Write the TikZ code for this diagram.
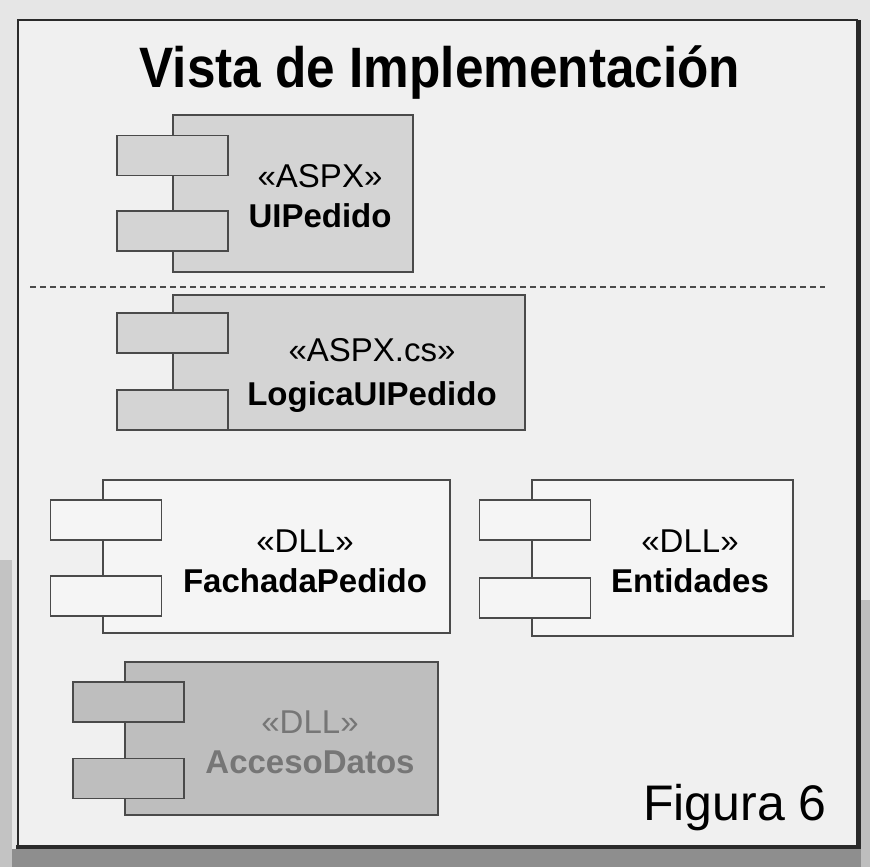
\documentclass[tikz,border=0pt]{standalone}
\usepackage{fontspec}
\setmainfont{Liberation Sans}
\definecolor{bgout}{HTML}{E6E6E6}
\definecolor{bgin}{HTML}{F0F0F0}
\definecolor{framec}{HTML}{2A2A2A}
\definecolor{linec}{HTML}{4A4A4A}
\definecolor{fillA}{HTML}{D4D4D4}
\definecolor{fillB}{HTML}{F5F5F5}
\definecolor{fillC}{HTML}{BEBEBE}
\definecolor{shadowc}{HTML}{8E8E8E}
\definecolor{textgray}{HTML}{767676}
\tikzset{
  compbox/.style={draw=linec, line width=1.3pt, inner sep=0pt, rectangle},
  portbox/.style={draw=linec, line width=1.3pt, inner sep=0pt, rectangle, minimum width=111pt, minimum height=40pt},
  complabel/.style={align=center, inner sep=0pt, font=\fontsize{33}{40}\selectfont},
}
\begin{document}
\begin{tikzpicture}[x=1pt,y=-1pt]
\useasboundingbox (0,0) rectangle (870,867);
% backgrounds
\fill[bgout] (0,0) rectangle (870,867);
\fill[shadowc] (0,849) rectangle (870,867);
\fill[shadowc!45!bgout] (861,600) rectangle (870,867);
\fill[shadowc!40!bgout] (0,560) rectangle (12,867);
\fill[bgin] (18,20) rectangle (857,846);
\draw[framec, line width=2.5pt] (18,20) rectangle (857,846);
\draw[framec, line width=4pt] (16,847) -- (859,847) -- (859,20);

% title
\node[inner sep=0pt, anchor=base, font=\fontsize{57}{60}\selectfont\bfseries] (title) at (440,88) {\scalebox{0.9}[1]{Vista de Implementación}};

% UIPedido
\node[compbox, fill=fillA, minimum width=240pt, minimum height=157pt] (ui) at (293,193.5) {};
\node[portbox, fill=fillA] (uip1) at (172.5,155.5) {};
\node[portbox, fill=fillA] (uip2) at (172.5,231) {};
\node[complabel] (uit) at (320,196) {«ASPX»\\\textbf{UIPedido}};

% separator
\coordinate (sepL) at (30,287);
\coordinate (sepR) at (825,287);
\draw[linec, line width=1.4pt, dash pattern=on 6pt off 4pt] (sepL) -- (sepR);

% LogicaUIPedido
\node[compbox, fill=fillA, minimum width=352pt, minimum height=135pt] (lo) at (349,362.5) {};
\node[portbox, fill=fillA] (lop1) at (172.5,333) {};
\node[portbox, fill=fillA] (lop2) at (172.5,410) {};
\node[complabel, font=\fontsize{33}{44}\selectfont] (lot) at (372,375) {«ASPX.cs»\\\textbf{LogicaUIPedido}};

% FachadaPedido
\node[compbox, fill=fillB, minimum width=347pt, minimum height=153pt] (fa) at (276.5,556.5) {};
\node[portbox, fill=fillB] (fap1) at (106,520) {};
\node[portbox, fill=fillB] (fap2) at (106,596) {};
\node[complabel] (fat) at (305,561) {«DLL»\\\textbf{FachadaPedido}};

% Entidades
\node[compbox, fill=fillB, minimum width=261pt, minimum height=156pt] (en) at (662.5,558) {};
\node[portbox, fill=fillB] (enp1) at (535,520) {};
\node[portbox, fill=fillB] (enp2) at (535,598) {};
\node[complabel] (ent) at (690,561) {«DLL»\\\textbf{Entidades}};

% AccesoDatos
\node[compbox, fill=fillC, minimum width=313pt, minimum height=153pt] (ac) at (281.5,738.5) {};
\node[portbox, fill=fillC] (acp1) at (128.5,702) {};
\node[portbox, fill=fillC] (acp2) at (128.5,778.5) {};
\node[complabel, text=textgray] (act) at (310,742) {«DLL»\\\textbf{AccesoDatos}};

% figure label
\node[inner sep=0pt, anchor=base, font=\fontsize{50}{55}\selectfont] (fig) at (735,820) {Figura 6};
\end{tikzpicture}
\end{document}
